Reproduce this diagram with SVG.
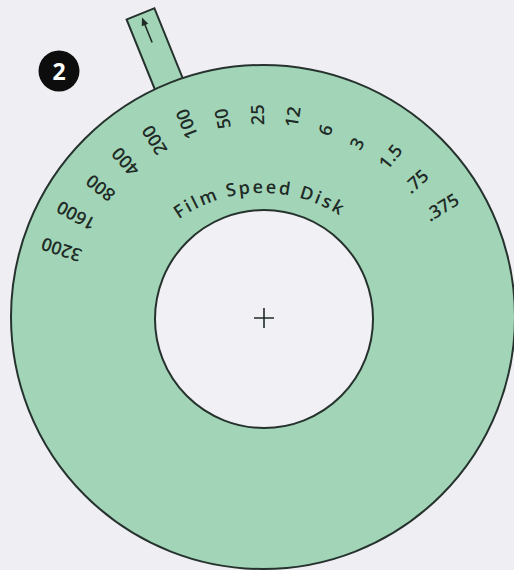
<svg xmlns="http://www.w3.org/2000/svg" width="514" height="570" viewBox="0 0 514 570">
  <defs>
    <style>
      .bg { fill: #efeef3; }
      .green { fill: #a2d5b8; stroke: #26322d; stroke-width: 2; }
      .hole { fill: #f1f0f5; stroke: #26322d; stroke-width: 2; }
      .num { font-family: "Open Sans", "Liberation Sans", sans-serif; font-size: 18px; font-weight: 600; fill: #1f2b26; }
      .title { font-family: "Open Sans", "Liberation Sans", sans-serif; font-size: 18px; font-weight: 600; fill: #1f2b26; }
      .line { stroke: #1f2b26; stroke-width: 1.6; fill: none; }
    </style>
    <path id="titleArc" d="M178.8,219.2 A145,145 0 0 1 345.2,219.2"/>
  </defs>
  <rect class="bg" x="0" y="0" width="514" height="570"/>

  <g id="badge">
    <circle cx="59" cy="71" r="20.5" fill="#0d0d0d"/>
    <text x="59" y="79.5" text-anchor="middle" font-family="Open Sans, Liberation Sans, sans-serif" font-size="23" font-weight="700" fill="#ffffff">2</text>
  </g>

  <g id="tab" transform="rotate(-22 263 317)">
    <rect class="green" x="248" y="-10" width="30" height="100"/>
    <line class="line" x1="263" y1="21" x2="263" y2="-2"/>
    <polygon points="263,-6 259.5,2 266.5,2" fill="#1f2b26"/>
  </g>

  <g id="disk">
    <circle class="green" cx="263" cy="317" r="252"/>
    <circle class="hole" cx="264" cy="319" r="109"/>
    <path class="line" d="M254,318 H274 M264,308 V328" stroke-width="1.3"/>
  </g>

  <g id="title">
    <text class="title"><textPath href="#titleArc" textLength="170" lengthAdjust="spacing">Film Speed Disk</textPath></text>
  </g>

  <g id="scale">
    <text class="num" x="455" y="317" dy="0.35em" transform="rotate(-161.5 263 317)">3200</text>
    <text class="num" x="455" y="317" dy="0.35em" transform="rotate(-151.5 263 317)">1600</text>
    <text class="num" x="455" y="317" dy="0.35em" transform="rotate(-141.5 263 317)">800</text>
    <text class="num" x="455" y="317" dy="0.35em" transform="rotate(-131.5 263 317)">400</text>
    <text class="num" x="455" y="317" dy="0.35em" transform="rotate(-121.5 263 317)">200</text>
    <text class="num" x="455" y="317" dy="0.35em" transform="rotate(-111.5 263 317)">100</text>
    <text class="num" x="455" y="317" dy="0.35em" transform="rotate(-101.5 263 317)">50</text>
    <text class="num" x="455" y="317" dy="0.35em" transform="rotate(-91.5 263 317)">25</text>
    <text class="num" x="455" y="317" dy="0.35em" transform="rotate(-81.5 263 317)">12</text>
    <text class="num" x="455" y="317" dy="0.35em" transform="rotate(-71.5 263 317)">6</text>
    <text class="num" x="455" y="317" dy="0.35em" transform="rotate(-61.5 263 317)">3</text>
    <text class="num" x="455" y="317" dy="0.35em" transform="rotate(-51.5 263 317)">1.5</text>
    <text class="num" x="455" y="317" dy="0.35em" transform="rotate(-41.5 263 317)">.75</text>
    <text class="num" x="455" y="317" dy="0.35em" transform="rotate(-31.5 263 317)">.375</text>
  </g>
</svg>
